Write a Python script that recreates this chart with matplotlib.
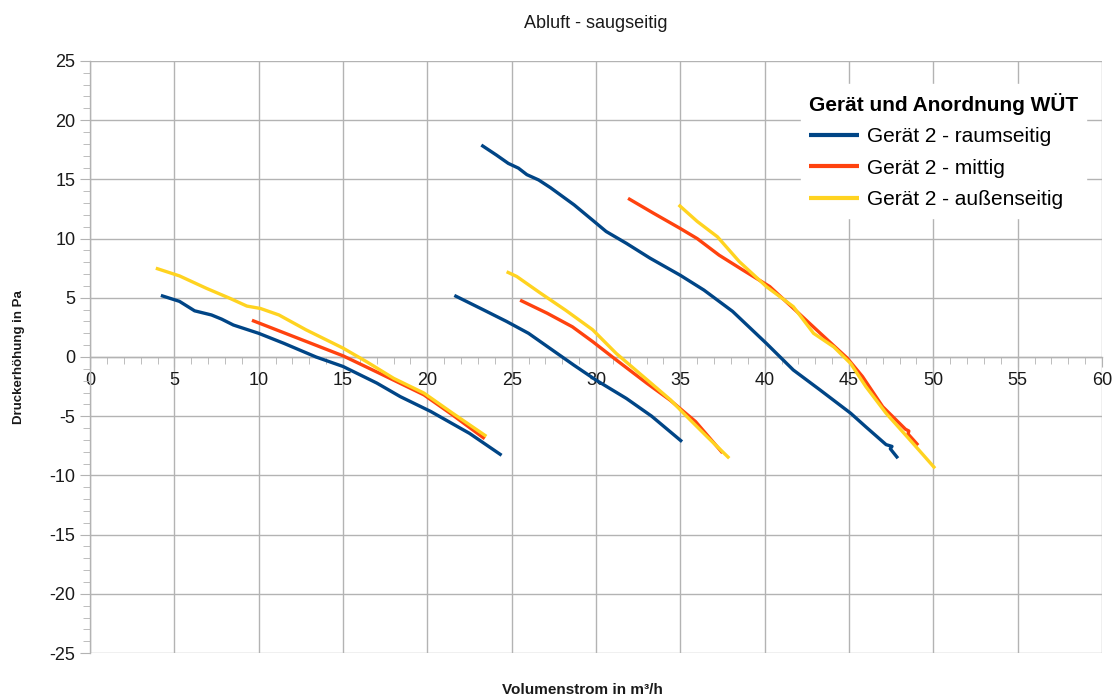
import numpy as np
import matplotlib.pyplot as plt
from matplotlib.ticker import MultipleLocator

plt.rcParams['font.family'] = ['Liberation Sans', 'DejaVu Sans']
plt.rcParams['axes.unicode_minus'] = False

# Kennlinien, je Anordnung drei Messreihen (Volumenstrom m³/h, Druckerhöhung Pa)
raum_x = [
    [4.2, 5.3, 6.2, 7.2, 7.8, 8.5, 10.0, 11.5, 13.4, 15.0, 17.0, 18.4, 20.2, 22.5, 24.4],
    [21.6, 23.3, 24.7, 26.0, 27.1, 28.7, 30.0, 31.8, 33.3, 35.1],
    [23.2, 24.1, 24.8, 25.4, 25.9, 26.6, 27.3, 28.7, 29.8, 30.6, 31.8, 33.2, 35.0,
     36.4, 38.1, 40.1, 41.7, 43.3, 45.1, 46.0, 47.2, 47.55, 47.45, 47.9],
]
raum_y = [
    [5.2, 4.7, 3.9, 3.55, 3.2, 2.7, 2.0, 1.15, 0.0, -0.8, -2.2, -3.35, -4.6, -6.45, -8.3],
    [5.2, 4.0, 3.0, 2.0, 0.9, -0.7, -1.95, -3.5, -5.0, -7.15],
    [17.9, 17.05, 16.35, 15.95, 15.4, 14.95, 14.3, 12.85, 11.55, 10.6, 9.6, 8.35, 6.9,
     5.65, 3.85, 1.15, -1.1, -2.8, -4.75, -5.9, -7.4, -7.55, -7.75, -8.55],
]

mitte_x = [
    [9.6, 15.0, 17.2, 19.8, 21.5, 23.4],
    [25.5, 27.1, 28.6, 29.8, 31.2, 33.0, 34.4, 35.9, 37.5],
    [31.9, 33.4, 35.0, 36.0, 37.3, 38.7, 40.3, 41.9, 43.3, 44.9, 45.8, 47.0, 48.35,
     48.55, 48.5, 49.1],
]
mitte_y = [
    [3.1, 0.1, -1.4, -3.2, -4.9, -6.9],
    [4.8, 3.7, 2.55, 1.3, -0.25, -2.2, -3.65, -5.45, -8.1],
    [13.4, 12.15, 10.85, 10.0, 8.6, 7.35, 5.95, 3.85, 2.0, -0.1, -1.65, -4.2, -6.1,
     -6.25, -6.5, -7.45],
]

aussen_x = [
    [3.9, 5.3, 6.9, 8.3, 9.3, 10.1, 11.2, 12.8, 15.0, 16.4, 18.0, 19.8, 21.5, 23.5],
    [24.7, 25.3, 26.7, 28.2, 29.8, 31.2, 32.8, 34.4, 35.4, 36.6, 37.9],
    [34.9, 36.0, 37.2, 38.5, 40.1, 41.7, 42.9, 44.1, 45.1, 46.0, 47.2, 48.8, 50.1],
]
aussen_y = [
    [7.5, 6.85, 5.8, 4.95, 4.3, 4.1, 3.55, 2.3, 0.75, -0.4, -1.8, -3.05, -4.75, -6.7],
    [7.2, 6.8, 5.4, 3.95, 2.3, 0.3, -1.65, -3.6, -5.05, -6.75, -8.55],
    [12.85, 11.45, 10.15, 8.05, 5.95, 4.25, 2.0, 0.85, -0.55, -2.5, -4.75, -7.3, -9.4],
]

reihen = [
    ("Gerät 2 - raumseitig", "#004586", raum_x, raum_y),
    ("Gerät 2 - mittig", "#ff420e", mitte_x, mitte_y),
    ("Gerät 2 - außenseitig", "#ffd320", aussen_x, aussen_y),
]

fig = plt.figure(figsize=(11.2, 7), dpi=100)
ax = fig.add_axes([0.0804, 0.0671, 0.9035, 0.8458])

for z, (name, farbe, xs, ys) in enumerate(reihen):
    for i in range(len(xs)):
        ax.plot(xs[i], ys[i], color=farbe, lw=2.4, solid_capstyle='butt',
                label=name if i == 0 else None, zorder=3 + z)

ax.set_xlim(0, 60)
ax.set_ylim(-25, 25)
ax.xaxis.set_major_locator(MultipleLocator(5))
ax.xaxis.set_minor_locator(MultipleLocator(1))
ax.yaxis.set_major_locator(MultipleLocator(5))
ax.yaxis.set_minor_locator(MultipleLocator(1))

ax.grid(True, which='major', color='#b3b3b3', lw=1)
ax.spines['top'].set_visible(False)
ax.spines['right'].set_visible(False)
ax.spines['bottom'].set_position(('data', 0))
for s in ('left', 'bottom'):
    ax.spines[s].set_color('#b3b3b3')
    ax.spines[s].set_linewidth(1)
ax.tick_params(which='major', length=7, color='#b3b3b3', labelsize=13,
               labelcolor='#1a1a1a')
ax.tick_params(which='minor', length=5, color='#b3b3b3')
ax.tick_params(axis='x', pad=4)

ax.set_title("Abluft - saugseitig", fontsize=13, color='#1a1a1a', pad=24)
fig.text(0.52, 0.005, "Volumenstrom in m³/h", ha='center', va='bottom',
         fontsize=11, fontweight='bold', color='#1a1a1a')
fig.text(0.017, 0.49, "Druckerhöhung in Pa", ha='center', va='center',
         rotation=90, fontsize=9.5, fontweight='bold', color='#1a1a1a')

leg = ax.legend(title="Gerät und Anordnung WÜT", loc='upper right',
                bbox_to_anchor=(0.995, 0.978), fontsize=15, frameon=True,
                fancybox=False, edgecolor='white', framealpha=1,
                handlelength=2.4, handletextpad=0.4, labelspacing=0.6,
                alignment='left', borderpad=0.4)
leg.get_title().set_fontweight('bold')
leg.get_title().set_fontsize(15)
leg.set_zorder(10)
for line in leg.get_lines():
    line.set_linewidth(3)

fig.savefig("out.png", dpi=100)
